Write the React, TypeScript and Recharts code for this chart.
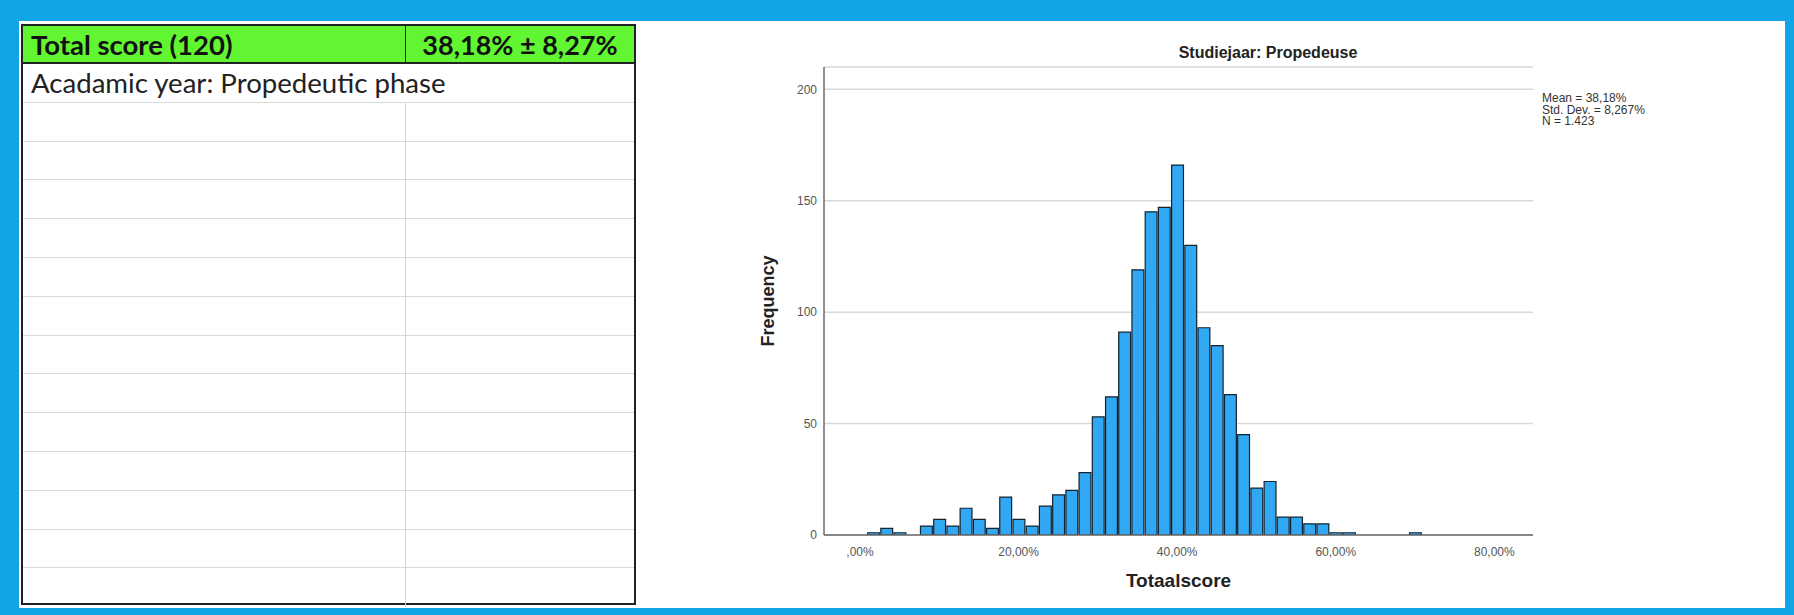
import { Bar, BarChart, CartesianGrid, XAxis, YAxis } from "recharts";

// histogram bins (percent score), one bin = 2 of 120 questions
const binCenters = [
  1.67, 3.33, 5.0, 6.67, 8.33, 10.0, 11.67, 13.33, 15.0, 16.67, 18.33, 20.0, 21.67, 23.33,
  25.0, 26.67, 28.33, 30.0, 31.67, 33.33, 35.0, 36.67, 38.33, 40.0, 41.67, 43.33, 45.0,
  46.67, 48.33, 50.0, 51.67, 53.33, 55.0, 56.67, 58.33, 60.0, 61.67, 63.33, 65.0, 66.67,
  68.33, 70.0,
];
const frequencies = [
  1, 3, 1, 0, 4, 7, 4, 12, 7, 3, 17, 7, 4, 13, 18, 20, 28, 53, 62, 91, 119, 145, 147, 166,
  130, 93, 85, 63, 45, 21, 24, 8, 8, 5, 5, 1, 1, 0, 0, 0, 0, 1,
];
const binWidth = 1.667;

const xTicks = [0, 20, 40, 60, 80];
const xTickLabels = [",00%", "20,00%", "40,00%", "60,00%", "80,00%"];
const yTicks = [0, 50, 100, 150, 200];

const statLines = ["Mean = 38,18%", "Std. Dev. = 8,267%", "N = 1.423"];
const headerCells = ["Total score (120)", "38,18% ± 8,27%"];
const subHeader = "Acadamic year: Propedeutic phase";
const emptyRowCount = 13;

const chartData = binCenters.map((center, i) => ({ center, count: frequencies[i] }));

const X_DOMAIN: [number, number] = [-4.54, 84.87];
const CHART_W = 1145;
const CHART_H = 586;
const MARGIN = { top: 45, right: 252, left: 144, bottom: 23 };
const Y_AXIS_W = 40;
const plotW = CHART_W - MARGIN.left - MARGIN.right - Y_AXIS_W;
const barPx = (plotW * binWidth) / (X_DOMAIN[1] - X_DOMAIN[0]);

const chartFont = '"Liberation Sans", Arial, sans-serif';
const tableFont = 'Lato, "Open Sans", sans-serif';
const COL1_W = 383;

function ScoreTable() {
  const rowH = 38.8;
  return (
    <div
      style={{
        position: "absolute",
        left: 21,
        top: 24,
        width: 615,
        height: 581,
        border: "2px solid #222",
        boxSizing: "border-box",
        background: "#fff",
        fontFamily: tableFont,
        color: "#111",
      }}
    >
      <div style={{ display: "flex", height: 36, background: "#62f531", borderBottom: "2px solid #222" }}>
        <div
          style={{
            width: COL1_W,
            boxSizing: "border-box",
            borderRight: "1.5px solid #222",
            fontWeight: 700,
            fontSize: 27.5,
            display: "flex",
            alignItems: "center",
            paddingLeft: 8,
          }}
        >
          {headerCells[0]}
        </div>
        <div
          style={{
            flex: 1,
            fontWeight: 700,
            fontSize: 27,
            display: "flex",
            alignItems: "center",
            justifyContent: "center",
          }}
        >
          {headerCells[1]}
        </div>
      </div>
      <div
        style={{
          height: rowH,
          borderBottom: "1.5px solid #d9d9d9",
          boxSizing: "border-box",
          fontSize: 27.6,
          display: "flex",
          alignItems: "center",
          paddingLeft: 8,
          color: "#222",
        }}
      >
        {subHeader}
      </div>
      {Array.from({ length: emptyRowCount }).map((_, i) => (
        <div
          key={i}
          style={{
            display: "flex",
            height: rowH,
            boxSizing: "border-box",
            borderBottom: i < emptyRowCount - 1 ? "1.5px solid #d9d9d9" : "none",
          }}
        >
          <div style={{ width: COL1_W, boxSizing: "border-box", borderRight: "1.5px solid #d4d4d4" }} />
          <div style={{ flex: 1 }} />
        </div>
      ))}
    </div>
  );
}

export default function App() {
  return (
    <div
      style={{
        position: "absolute",
        left: 0,
        top: 0,
        width: 1794,
        height: 615,
        background: "#12a5e6",
        overflow: "hidden",
      }}
    >
      <div
        style={{ position: "absolute", left: 19, top: 21, width: 1766, height: 587, background: "#fff" }}
      />
      <ScoreTable />
      <div style={{ position: "absolute", left: 640, top: 22 }}>
        <BarChart width={CHART_W} height={CHART_H} data={chartData} margin={MARGIN} barGap={0}>
          <CartesianGrid vertical={false} stroke="#d9d9d9" strokeWidth={1.5} />
          <XAxis
            type="number"
            dataKey="center"
            domain={X_DOMAIN}
            ticks={xTicks}
            allowDataOverflow
            tickFormatter={(v: number) => xTickLabels[xTicks.indexOf(v)] ?? ""}
            height={50}
            tickLine={false}
            tickSize={8}
            tickMargin={4}
            axisLine={{ stroke: "#6b6b6b", strokeWidth: 1.5 }}
            tick={{ fontSize: 12, fill: "#555", fontFamily: chartFont }}
            label={{
              value: "Totaalscore",
              position: "insideBottom",
              offset: -2,
              style: { fontSize: 19, fontWeight: 700, fill: "#222", fontFamily: chartFont },
            }}
          />
          <YAxis
            type="number"
            domain={[0, 210]}
            ticks={yTicks}
            width={Y_AXIS_W}
            allowDataOverflow
            tickLine={false}
            tickSize={5}
            tickMargin={2}
            axisLine={{ stroke: "#6b6b6b", strokeWidth: 1.5 }}
            tick={{ fontSize: 12, fill: "#555", fontFamily: chartFont }}
            label={{
              value: "Frequency",
              angle: -90,
              position: "insideLeft",
              offset: -16,
              style: { textAnchor: "middle", fontSize: 18, fontWeight: 700, fill: "#222", fontFamily: chartFont },
            }}
          />
          <Bar
            dataKey="count"
            barSize={barPx}
            fill="#31a8f4"
            stroke="#14222e"
            strokeWidth={1.2}
            isAnimationActive={false}
          />
        </BarChart>
      </div>
      <div
        style={{
          position: "absolute",
          left: 1068,
          top: 45,
          width: 400,
          textAlign: "center",
          fontFamily: chartFont,
          fontWeight: 700,
          fontSize: 16,
          lineHeight: "16px",
          color: "#222",
        }}
      >
        Studiejaar: Propedeuse
      </div>
      <div
        style={{
          position: "absolute",
          left: 1542,
          top: 93,
          fontFamily: chartFont,
          fontSize: 12,
          lineHeight: "11.6px",
          color: "#333",
        }}
      >
        {statLines.map((s) => (
          <div key={s}>{s}</div>
        ))}
      </div>
    </div>
  );
}
